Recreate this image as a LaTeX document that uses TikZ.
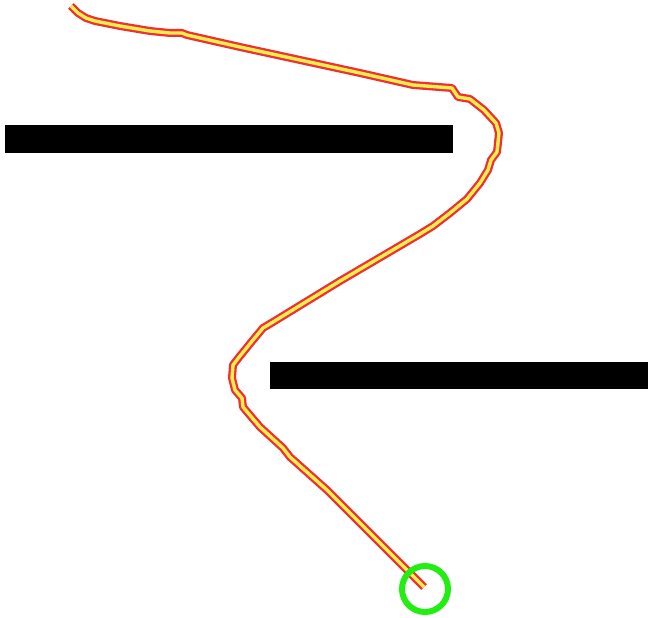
\documentclass[tikz,border=0pt]{standalone}
\usetikzlibrary{calc}
\definecolor{routered}{HTML}{EE3030}
\definecolor{routeyellow}{HTML}{FFEE50}
\definecolor{ringgreen}{HTML}{22EE11}
\tikzset{
  bar/.style={fill=black, draw=none},
  outerline/.style={draw=routered, line width=8pt, line join=round},
  innerline/.style={draw=routeyellow, line width=3.4pt, line join=round},
  ring/.style={draw=ringgreen, line width=6pt}
}
\begin{document}
\begin{tikzpicture}[x=1pt,y=-1pt]
\useasboundingbox (0,0) rectangle (648,618);
\fill[white] (0,0) rectangle (648,618);
\path[bar] (5,125) rectangle (453,153);
\path[bar] (270,362) rectangle (648,389);
\def\routepath{(71,6) -- (78,13) -- (86,18) -- (95,21) -- (120,26) -- (150,31) -- (170,33) -- (182,33) -- (187,35) -- (240,47) -- (300,60) -- (360,73) -- (413,85) -- (452,88) -- (458,97) -- (470,99) -- (484,110) -- (496,123) -- (499,133) -- (497,152) -- (491,160) -- (488,170) -- (480,183) -- (467,199) -- (450,213) -- (433,226) -- (420,234) -- (340,281) -- (273,322) -- (263,328) -- (253,340) -- (240,356) -- (233,365) -- (232,378) -- (235,390) -- (242,398) -- (243,407) -- (260,427) -- (283,448) -- (290,457) -- (327,490) -- (424,587)}
\draw[outerline] \routepath;
\draw[innerline] \routepath;
\node[ring, circle, minimum size=46pt, inner sep=0pt] (ring) at (425,589) {};
\end{tikzpicture}
\end{document}
